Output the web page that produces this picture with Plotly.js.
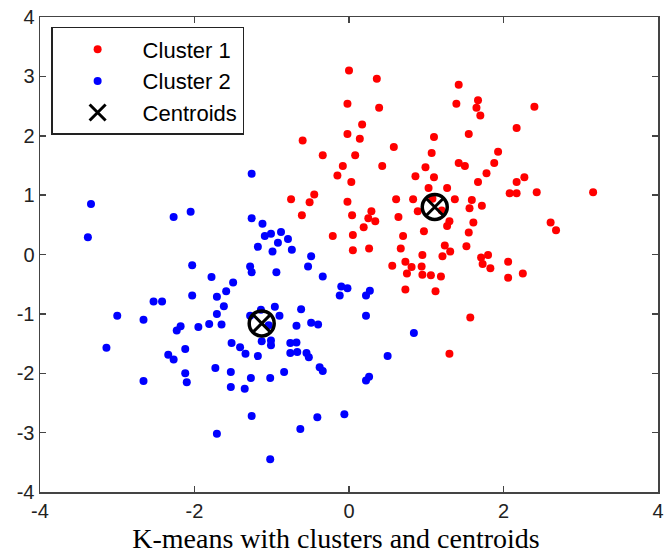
<!DOCTYPE html>
<html>
<head>
<meta charset="utf-8">
<script src="https://cdn.plot.ly/plotly-3.0.1.min.js"></script>
<style>html,body{margin:0;padding:0;background:#fff;}#chart{width:672px;height:557px;}</style>
</head>
<body>
<div id="chart"></div>
<script>
// Cluster 1 (red) points
const cluster1X = [0.00,0.36,-0.02,0.39,0.17,-0.02,0.14,-0.60,1.10,0.58,-0.34,0.08,1.07,-0.08,0.43,0.99,-0.15,0.86,1.10,0.03,1.03,-0.45,-0.51,-0.75,-0.02,0.61,0.83,1.42,1.39,1.67,1.65,1.70,2.40,2.17,1.55,1.93,1.42,1.50,1.88,1.78,2.27,2.17,1.67,1.27,2.08,2.17,2.43,3.16,1.37,1.59,1.56,1.72,-0.61,0.04,0.29,0.25,0.34,0.19,0.05,-0.21,0.05,0.26,0.64,0.89,0.97,0.70,0.67,0.95,0.56,0.73,0.75,0.81,0.94,0.95,1.06,1.19,0.73,1.12,1.30,1.27,1.61,1.55,2.61,2.68,1.24,1.21,1.31,1.52,1.71,1.80,1.73,1.83,2.06,2.06,2.25,1.57,1.30,1.08,1.20];
const cluster1Y = [3.10,2.96,2.54,2.47,2.19,2.03,1.95,1.92,1.98,1.81,1.67,1.67,1.71,1.49,1.49,1.47,1.33,1.32,1.30,1.22,1.12,1.01,0.88,0.93,0.89,0.93,0.93,2.86,2.54,2.60,2.47,2.34,2.49,2.13,2.03,1.73,1.54,1.49,1.54,1.37,1.30,1.22,1.22,1.12,1.03,1.03,1.05,1.05,0.93,0.92,0.78,0.82,0.66,0.66,0.73,0.61,0.56,0.46,0.33,0.31,0.07,0.10,0.63,0.73,0.39,0.31,0.10,-0.01,-0.19,-0.12,-0.32,-0.21,-0.20,-0.34,-0.35,-0.37,-0.59,-0.62,0.56,0.48,0.54,0.37,0.54,0.41,0.15,-0.03,0.05,0.14,-0.05,-0.01,-0.16,-0.23,-0.12,-0.39,-0.32,-1.06,-1.67,0.94,0.74];
// Cluster 2 (blue) points
const cluster2X = [-3.34,-3.38,-2.27,-2.05,-2.03,-1.78,-1.50,-1.59,-1.71,-2.03,-2.53,-2.42,-1.62,-1.26,-1.26,-1.12,-1.09,-1.01,-0.88,-0.79,-0.92,-1.18,-0.99,-0.74,-0.49,-0.53,-1.28,-1.26,-0.94,-0.34,-0.10,-0.02,-0.12,0.27,0.22,-0.96,-0.62,-1.14,0.22,0.84,0.50,-0.38,-0.34,0.22,0.26,-0.41,-0.06,-0.63,-0.90,-1.28,-1.04,-0.68,-0.49,-0.40,-1.52,-1.41,-1.34,-1.18,-1.13,-1.01,-1.01,-0.76,-0.68,-0.76,-0.67,-0.55,-0.52,-0.84,-1.02,-1.27,-1.53,-1.53,-1.35,-1.26,-1.02,-3.00,-2.66,-2.18,-2.23,-1.95,-1.81,-1.65,-1.71,-3.14,-2.34,-2.27,-2.12,-2.66,-2.12,-2.10,-1.73,-1.71];
const cluster2Y = [0.85,0.29,0.63,0.72,-0.18,-0.38,-0.47,-0.62,-0.71,-0.69,-0.79,-0.79,-0.87,1.36,0.61,0.52,0.31,0.35,0.38,0.26,0.20,0.13,0.05,0.08,-0.03,-0.20,-0.20,-0.30,-0.30,-0.37,-0.54,-0.57,-0.69,-0.61,-0.69,-0.88,-0.92,-0.93,-1.03,-1.32,-1.71,-1.90,-1.96,-2.12,-2.06,-2.74,-2.69,-2.94,-1.03,-1.03,-1.19,-1.20,-1.15,-1.18,-1.49,-1.56,-1.67,-1.71,-1.46,-1.45,-1.53,-1.49,-1.48,-1.66,-1.64,-1.66,-1.73,-1.98,-2.08,-2.08,-1.98,-2.23,-2.26,-2.72,-3.45,-1.03,-1.10,-1.21,-1.28,-1.22,-1.17,-1.18,-1.00,-1.57,-1.69,-1.77,-1.59,-2.13,-2.00,-2.15,-1.91,-3.02];
// Centroids
const centroidX = [1.11, -1.13];
const centroidY = [0.80, -1.16];
const legendNames = ['Cluster 1', 'Cluster 2', 'Centroids'];
const xTicks = [-4, -2, 0, 2, 4];
const yTicks = [-4, -3, -2, -1, 0, 1, 2, 3, 4];
const chartTitle = 'K-means with clusters and centroids';

const traces = [
  {x: cluster1X, y: cluster1Y, type: 'scatter', mode: 'markers', name: legendNames[0], legendgroup: 'a',
   marker: {color: '#ff0000', size: 8, symbol: 'circle'}},
  {x: cluster2X, y: cluster2Y, type: 'scatter', mode: 'markers', name: legendNames[1], legendgroup: 'b',
   marker: {color: '#0000ff', size: 8, symbol: 'circle'}},
  {x: centroidX, y: centroidY, type: 'scatter', mode: 'markers', showlegend: false, hoverinfo: 'skip',
   marker: {color: '#000', size: 25, symbol: 'circle-open', line: {color: '#000', width: 3.5}}},
  {x: centroidX, y: centroidY, type: 'scatter', mode: 'markers', name: legendNames[2], legendgroup: 'c',
   marker: {color: '#000', size: 16, symbol: 'x-thin-open', line: {color: '#000', width: 3}}}
];

const axisCommon = {
  showgrid: false, zeroline: false, showline: true, linecolor: '#444', linewidth: 1.5,
  mirror: 'ticks', ticks: 'inside', ticklen: 6, tickwidth: 1.5, tickcolor: '#444',
  tickfont: {family: 'Liberation Sans, Arial, sans-serif', size: 20, color: '#222'}
};

const layout = {
  width: 672, height: 557,
  margin: {l: 40, r: 14, t: 17, b: 65},
  paper_bgcolor: '#fff', plot_bgcolor: '#fff',
  showlegend: true,
  title: {
    text: chartTitle, x: 0.5, xref: 'container', xanchor: 'center',
    y: 0.034, yref: 'container', yanchor: 'middle',
    font: {family: 'Liberation Serif, Times New Roman, serif', size: 28, color: '#000'}
  },
  xaxis: Object.assign({}, axisCommon, {
    range: [-4, 4], tickvals: xTicks, ticktext: xTicks.map(String)
  }),
  yaxis: Object.assign({}, axisCommon, {
    range: [-4, 4], tickvals: yTicks, ticktext: yTicks.map(String)
  }),
  legend: {
    x: 0.018, y: 0.979, xanchor: 'left', yanchor: 'top',
    bgcolor: '#fff', bordercolor: '#222', borderwidth: 1.5,
    font: {family: 'Liberation Sans, Arial, sans-serif', size: 22, color: '#000'},
    traceorder: 'grouped', tracegroupgap: 0, itemwidth: 80
  }
};

Plotly.newPlot('chart', traces, layout, {displayModeBar: false, staticPlot: true});
</script>
</body>
</html>
